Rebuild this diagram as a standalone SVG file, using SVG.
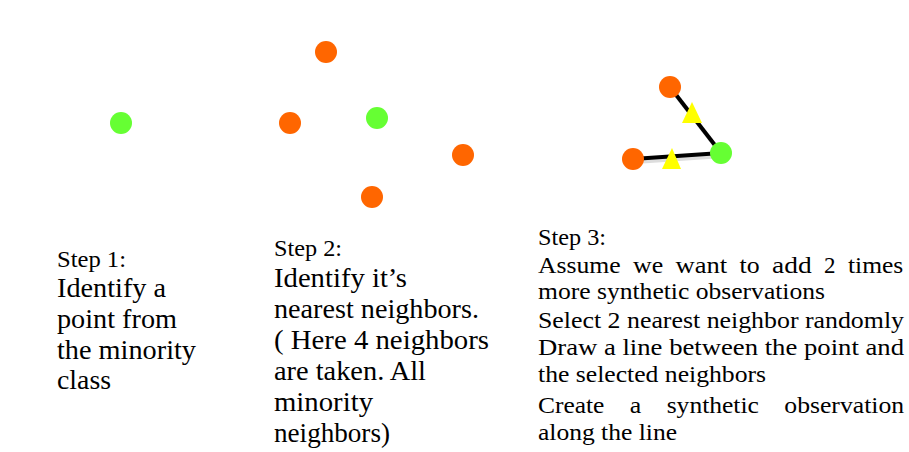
<svg xmlns="http://www.w3.org/2000/svg" width="909" height="452" viewBox="0 0 909 452">
<style>
.maj{fill:#FF6600}
.min{fill:#66FF33}
.syn{fill:#FFFF00}
.edge{stroke:#000;stroke-width:4;fill:none}
.shadow{stroke:#bbb;stroke-width:4;fill:none;opacity:0.5}
text{font-family:"Liberation Serif","Times New Roman",serif;fill:#000}
.lab{font-size:23px}
.s3{font-size:24px}
.big{font-size:27px}
</style>
<rect width="909" height="452" fill="#fff"/>
<g id="connectors">
<line class="shadow" x1="672" y1="90" x2="723" y2="156"/>
<line class="shadow" x1="635" y1="162" x2="723" y2="156"/>
<line class="edge" x1="670" y1="87" x2="721" y2="153"/>
<line class="edge" x1="633" y1="159" x2="721" y2="153"/>
</g>
<g id="step1-point"><circle class="min" cx="121" cy="123" r="11"/></g>
<g id="step2-points">
<circle class="maj" cx="326" cy="52" r="11"/>
<circle class="maj" cx="290" cy="123" r="11"/>
<circle class="min" cx="377" cy="118" r="11"/>
<circle class="maj" cx="463" cy="155" r="11"/>
<circle class="maj" cx="372" cy="197" r="11"/>
</g>
<g id="step3-points">
<circle class="maj" cx="670" cy="87" r="11"/>
<circle class="maj" cx="633" cy="159" r="11"/>
<circle class="min" cx="721" cy="153" r="11"/>
<polygon class="syn" points="692,102 702,123 682,123"/>
<polygon class="syn" points="672,148 681,169 662,169"/>
</g>
<g id="step1-text">
<text class="lab" x="57" y="267" textLength="69" lengthAdjust="spacingAndGlyphs">Step 1:</text>
<text class="big" x="57" y="297" textLength="109" lengthAdjust="spacingAndGlyphs">Identify a</text>
<text class="big" x="57" y="328" textLength="120" lengthAdjust="spacingAndGlyphs">point from</text>
<text class="big" x="57" y="359" textLength="139" lengthAdjust="spacingAndGlyphs">the minority</text>
<text class="big" x="57" y="389" textLength="54" lengthAdjust="spacingAndGlyphs">class</text>
</g>
<g id="step2-text">
<text class="lab" x="274" y="256" textLength="68" lengthAdjust="spacingAndGlyphs">Step 2:</text>
<text class="big" x="274" y="287" textLength="133" lengthAdjust="spacingAndGlyphs">Identify it’s</text>
<text class="big" x="274" y="318" textLength="205" lengthAdjust="spacingAndGlyphs">nearest neighbors.</text>
<text class="big" x="274" y="349" textLength="215" lengthAdjust="spacingAndGlyphs">( Here 4 neighbors</text>
<text class="big" x="274" y="380" textLength="152" lengthAdjust="spacingAndGlyphs">are taken. All</text>
<text class="big" x="274" y="411" textLength="99" lengthAdjust="spacingAndGlyphs">minority</text>
<text class="big" x="274" y="442" textLength="116" lengthAdjust="spacingAndGlyphs">neighbors)</text>
</g>
<g id="step3-text">
<text class="lab" x="538" y="245" textLength="68" lengthAdjust="spacingAndGlyphs">Step 3:</text>
<text class="s3" x="538" y="273" textLength="82.6" lengthAdjust="spacingAndGlyphs">Assume</text>
<text class="s3" x="633" y="273" textLength="30.2" lengthAdjust="spacingAndGlyphs">we</text>
<text class="s3" x="675.6" y="273" textLength="51.6" lengthAdjust="spacingAndGlyphs">want</text>
<text class="s3" x="739.6" y="273" textLength="20.1" lengthAdjust="spacingAndGlyphs">to</text>
<text class="s3" x="772.1" y="273" textLength="39.6" lengthAdjust="spacingAndGlyphs">add</text>
<text class="s3" x="824.1" y="273" textLength="11.5" lengthAdjust="spacingAndGlyphs">2</text>
<text class="s3" x="848" y="273" textLength="55.3" lengthAdjust="spacingAndGlyphs">times</text>
<text class="s3" x="538" y="299" textLength="287" lengthAdjust="spacingAndGlyphs">more synthetic observations</text>
<text class="s3" x="538" y="328" textLength="366" lengthAdjust="spacingAndGlyphs">Select 2 nearest neighbor randomly</text>
<text class="s3" x="538" y="355" textLength="366" lengthAdjust="spacingAndGlyphs">Draw a line between the point and</text>
<text class="s3" x="538" y="382" textLength="228" lengthAdjust="spacingAndGlyphs">the selected neighbors</text>
<text class="s3" x="538" y="413" textLength="66.4" lengthAdjust="spacingAndGlyphs">Create</text>
<text class="s3" x="629.8" y="413" textLength="11.5" lengthAdjust="spacingAndGlyphs">a</text>
<text class="s3" x="666.7" y="413" textLength="92.2" lengthAdjust="spacingAndGlyphs">synthetic</text>
<text class="s3" x="784.3" y="413" textLength="119.8" lengthAdjust="spacingAndGlyphs">observation</text>
<text class="s3" x="538" y="440" textLength="139" lengthAdjust="spacingAndGlyphs">along the line</text>
</g>
</svg>
